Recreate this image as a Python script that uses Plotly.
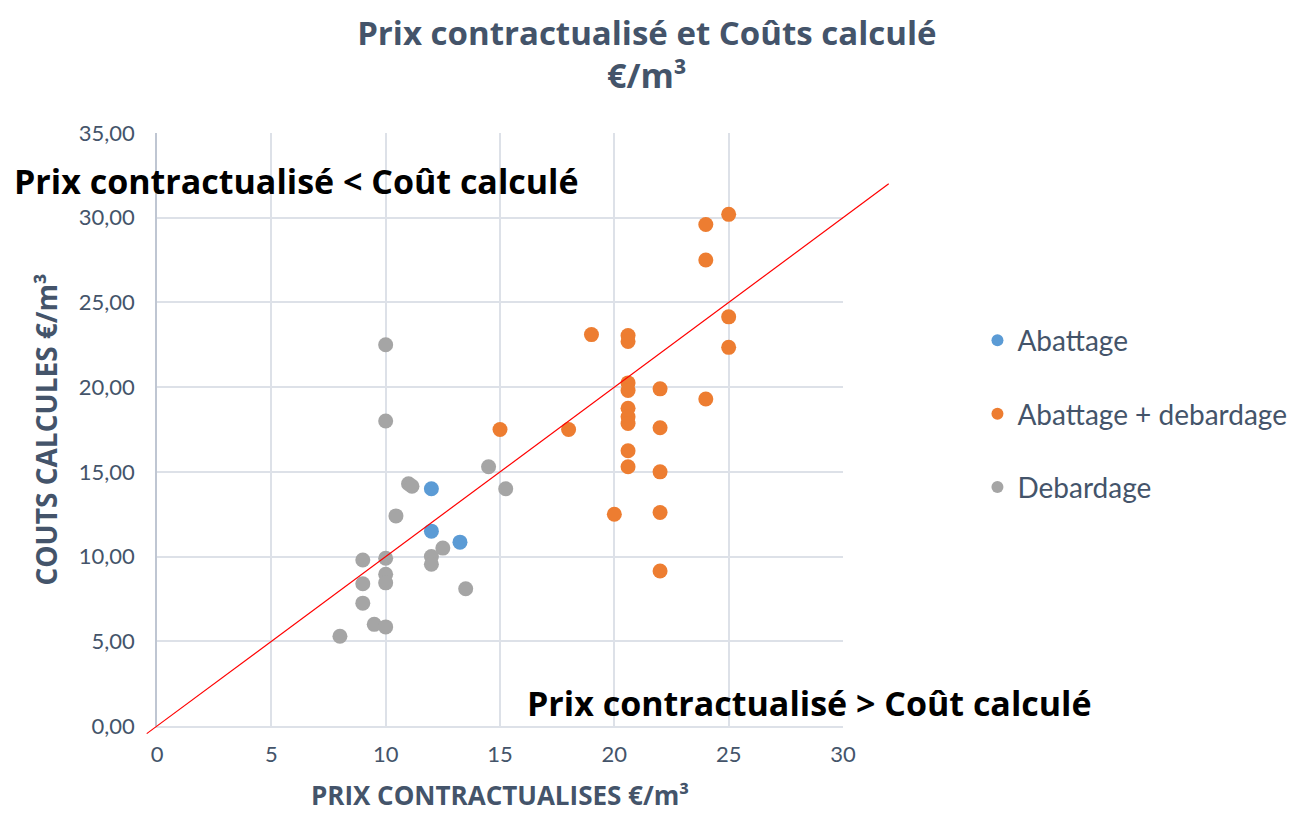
import plotly.graph_objects as go

# données (prix contractualisé, coût calculé) en €/m³
abattage_prix = [12, 12, 13.25]
abattage_cout = [14.0, 11.5, 10.85]

abat_deb_prix = [15, 25, 24, 24, 25, 25, 19, 20.6, 20.6, 20.6, 20.6, 22, 24,
                 20.6, 20.6, 20.6, 22, 18, 20.6, 20.6, 22, 20, 22, 22]
abat_deb_cout = [17.5, 30.2, 29.6, 27.5, 24.15, 22.35, 23.1, 23.05, 22.7, 20.25,
                 19.8, 19.9, 19.3, 18.75, 18.25, 17.85, 17.6, 17.5, 16.25, 15.3,
                 15.0, 12.5, 12.6, 9.15]

debardage_prix = [10, 10, 14.5, 15.25, 11, 11.15, 10.45, 12.5, 12, 12, 10, 9,
                  10, 10, 9, 13.5, 9, 9.5, 10, 8]
debardage_cout = [22.5, 18.0, 15.3, 14.0, 14.3, 14.15, 12.4, 10.5, 10.0, 9.55,
                  9.9, 9.8, 8.95, 8.45, 8.4, 8.1, 7.25, 6.0, 5.85, 5.3]

x_range = [0, 30]
y_range = [0, 35]
y_ticks = [0, 5, 10, 15, 20, 25, 30, 35]
y_ticklabels = ["0,00", "5,00", "10,00", "15,00", "20,00", "25,00", "30,00", "35,00"]

# droite prix = coût
diag = [-0.45, 32]

TXT = "#44546A"
FONT = "Lato"
BOLD = "Open Sans"

fig = go.Figure()
series = [
    ("Abattage", abattage_prix, abattage_cout, "#5B9BD5"),
    ("Abattage + debardage", abat_deb_prix, abat_deb_cout, "#ED7D31"),
    ("Debardage", debardage_prix, debardage_cout, "#A5A5A5"),
]
for name, xs, ys, col in series:
    fig.add_trace(go.Scatter(
        x=xs, y=ys, mode="markers", name=name, legendgroup=name,
        marker=dict(color=col, size=15, line=dict(width=0)),
        cliponaxis=False,
    ))

# la ligne dépasse la zone du graphique -> coordonnées paper
def px_x(v):
    return (v - x_range[0]) / (x_range[1] - x_range[0])

def px_y(v):
    return (v - y_range[0]) / (y_range[1] - y_range[0])

fig.add_shape(type="line", xref="paper", yref="paper",
              x0=px_x(diag[0]), y0=px_y(diag[0]), x1=px_x(diag[1]), y1=px_y(diag[1]),
              line=dict(color="#FF0000", width=1.2), layer="above")

fig.add_annotation(text="<b>Prix contractualisé < Coût calculé</b>",
                   xref="paper", yref="paper", x=-0.212, y=0.919,
                   xanchor="left", yanchor="middle", showarrow=False,
                   font=dict(family=BOLD, size=34, color="black"))
fig.add_annotation(text="<b>Prix contractualisé > Coût calculé</b>",
                   xref="paper", yref="paper", x=0.536, y=0.039,
                   xanchor="left", yanchor="middle", showarrow=False,
                   font=dict(family=BOLD, size=34, color="black"))
# deuxième ligne du titre
fig.add_annotation(text="<b>€/m³</b>", xref="paper", yref="paper",
                   x=0.715, y=1.098, xanchor="center", yanchor="middle",
                   showarrow=False, font=dict(family=BOLD, size=34, color=TXT))

fig.update_layout(
    width=1301, height=805,
    margin=dict(l=149, r=466, t=125, b=87, autoexpand=False),
    paper_bgcolor="white", plot_bgcolor="white",
    font=dict(family=FONT, color=TXT),
    title=dict(text="<b>Prix contractualisé et Coûts calculé</b>",
               x=0.491, xanchor="center", y=1 - 25 / 805, yanchor="middle",
               font=dict(family=BOLD, size=33, color=TXT)),
    legend=dict(x=1.196, xanchor="left", y=0.526, yanchor="middle",
                font=dict(family=FONT, size=28, color=TXT),
                traceorder="grouped", tracegroupgap=34,
                itemsizing="constant", bgcolor="rgba(0,0,0,0)"),
    showlegend=True,
)
fig.update_xaxes(range=x_range, dtick=5, showgrid=True, gridcolor="#DDE1E8",
                 gridwidth=1.5, zeroline=False, showline=True, linecolor="#DDE1E8",
                 linewidth=1.5, ticks="", ticklabelstandoff=8,
                 tickfont=dict(family=FONT, size=22, color=TXT),
                 title=dict(text="<b>PRIX CONTRACTUALISES €/m³</b>",
                            font=dict(family=BOLD, size=26, color=TXT), standoff=24))
fig.update_yaxes(range=y_range, tickvals=y_ticks, ticktext=y_ticklabels,
                 showgrid=True, gridcolor="#DDE1E8", gridwidth=1.5, zeroline=False,
                 showline=True, linecolor="#BFC6D2", linewidth=1.5, ticks="",
                 ticklabelstandoff=16,
                 tickfont=dict(family=FONT, size=22, color=TXT),
                 title=dict(text="<b>COUTS CALCULES €/m³</b>",
                            font=dict(family=BOLD, size=28, color=TXT), standoff=13))

fig.write_html("out.html")
